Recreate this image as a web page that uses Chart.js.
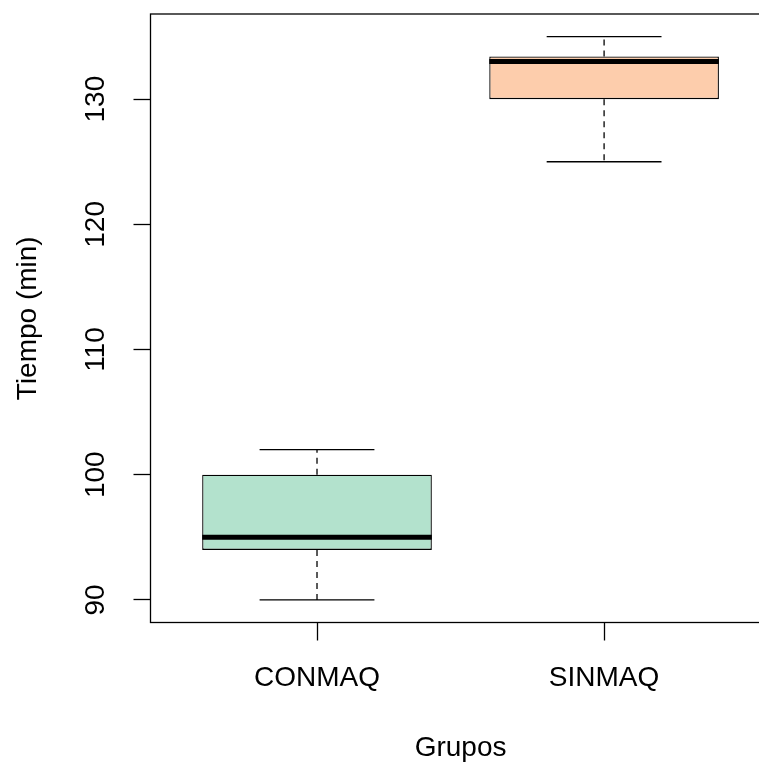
<!DOCTYPE html>
<html>
<head>
<meta charset="utf-8">
<script src="https://cdn.jsdelivr.net/npm/chart.js@4.4.1/dist/chart.umd.min.js"></script>
<style>
html,body{margin:0;padding:0;overflow:hidden;background:#ffffff;width:759px;height:767px;}
#wrap{position:absolute;left:0;top:0;width:772px;height:767px;}
</style>
</head>
<body>
<div id="wrap"><canvas id="c"></canvas></div>
<script>
// ---- data ----
const groups      = ['CONMAQ', 'SINMAQ'];
const whiskerLow  = [90, 125];
const quart1      = [94, 130];
const medians     = [95, 133];
const quart3      = [100, 133.4];
const whiskerHigh = [102, 135];
const yTicks      = [90, 100, 110, 120, 130];
const fills       = ['#B3E2CD', '#FDCDAC'];

const FONT = "'Liberation Sans', Arial, sans-serif";
const boxHalf = 0.4, capHalf = 0.2;

const boxData = groups.map((g, i) => ({x: i + 1, y: [quart1[i], quart3[i]]}));
const whiskerData = [];
const capData = [];
const medianData = [];
groups.forEach((g, i) => {
  const c = i + 1;
  whiskerData.push({x: c, y: quart3[i]}, {x: c, y: whiskerHigh[i]}, {x: c, y: null},
                   {x: c, y: quart1[i]}, {x: c, y: whiskerLow[i]}, {x: c, y: null});
  capData.push({x: c - capHalf, y: whiskerHigh[i]}, {x: c + capHalf, y: whiskerHigh[i]}, {x: c, y: null},
               {x: c - capHalf, y: whiskerLow[i]}, {x: c + capHalf, y: whiskerLow[i]}, {x: c, y: null});
  medianData.push({x: c - boxHalf, y: medians[i]}, {x: c + boxHalf, y: medians[i]}, {x: c, y: null});
});

const framePlugin = {
  id: 'frame',
  afterDraw(chart) {
    const a = chart.chartArea, ctx = chart.ctx;
    ctx.save();
    ctx.strokeStyle = '#000';
    ctx.lineWidth = 1.3;
    ctx.strokeRect(a.left, a.top, a.right - a.left, a.bottom - a.top);
    ctx.restore();
  }
};

new Chart(document.getElementById('c'), {
  type: 'bar',
  data: {
    datasets: [
      {
        type: 'bar', label: 'box', data: boxData,
        backgroundColor: fills, borderColor: '#000', borderWidth: 1.3,
        borderSkipped: false, barPercentage: 0.8, categoryPercentage: 1.0, order: 4
      },
      {
        type: 'line', label: 'whiskers', data: whiskerData,
        borderColor: '#000', borderWidth: 1.3, borderDash: [6, 5],
        pointRadius: 0, spanGaps: false, fill: false, order: 3
      },
      {
        type: 'line', label: 'caps', data: capData,
        borderColor: '#000', borderWidth: 1.3,
        pointRadius: 0, spanGaps: false, fill: false, order: 2
      },
      {
        type: 'line', label: 'median', data: medianData,
        borderColor: '#000', borderWidth: 5, borderCapStyle: 'butt',
        pointRadius: 0, spanGaps: false, fill: false, order: 1
      }
    ]
  },
  options: {
    responsive: true,
    maintainAspectRatio: false,
    animation: false,
    events: [],
    layout: {padding: {left: 0, top: 14, right: 1.4, bottom: 0}},
    plugins: {legend: {display: false}, tooltip: {enabled: false}},
    scales: {
      x: {
        type: 'linear', position: 'bottom', min: 0.42, max: 2.58, offset: false,
        afterBuildTicks: s => { s.ticks = groups.map((g, i) => ({value: i + 1})); },
        afterFit: s => { s.height = 144.5; s.paddingLeft = 0; s.paddingRight = 0; },
        ticks: {
          callback: v => groups[Math.round(v) - 1] || '',
          font: {family: FONT, size: 28}, color: '#000', padding: 21,
          maxRotation: 0, minRotation: 0, autoSkip: false
        },
        grid: {display: true, offset: false, drawOnChartArea: false, drawTicks: true,
               tickLength: 18, tickColor: '#000', tickWidth: 1.3, color: '#000'},
        border: {display: false},
        title: {display: true, text: 'Grupos', font: {family: FONT, size: 28}, color: '#000',
                padding: {top: 0, bottom: 2}}
      },
      y: {
        type: 'linear', position: 'left', min: 88.2, max: 136.8,
        afterBuildTicks: s => { s.ticks = yTicks.map(v => ({value: v})); },
        afterFit: s => { s.width = 150.5; s.paddingTop = 0; s.paddingBottom = 0; },
        ticks: {
          font: {family: FONT, size: 28}, color: '#000', padding: 13.6,
          minRotation: 90, maxRotation: 90, crossAlign: 'center', autoSkip: false
        },
        grid: {display: true, drawOnChartArea: false, drawTicks: true,
               tickLength: 17, tickColor: '#000', tickWidth: 1.3, color: '#000'},
        border: {display: false},
        title: {display: true, text: 'Tiempo (min)', font: {family: FONT, size: 28}, color: '#000',
                padding: {top: 11.5, bottom: 0}}
      }
    }
  },
  plugins: [framePlugin]
});
</script>
</body>
</html>
